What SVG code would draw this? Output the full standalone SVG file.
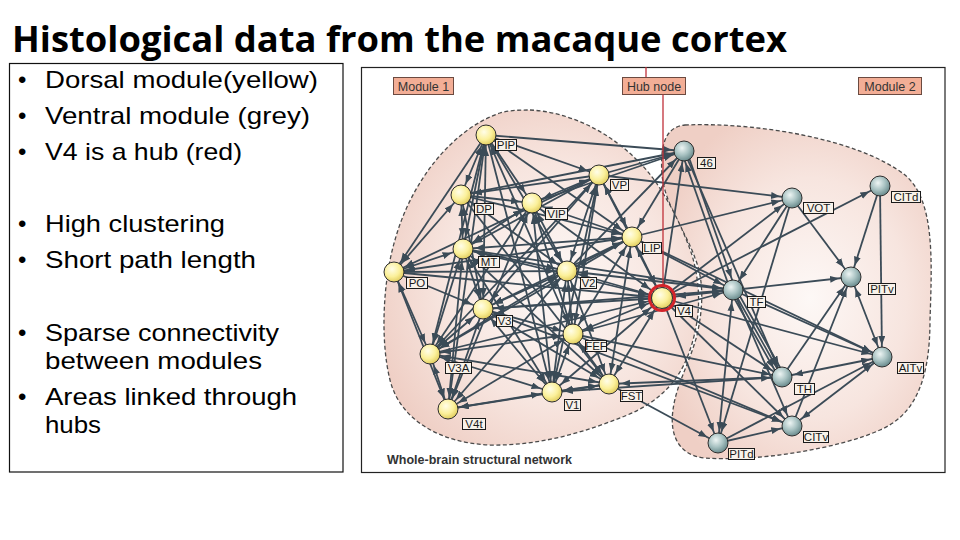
<svg xmlns="http://www.w3.org/2000/svg" width="960" height="540" viewBox="0 0 960 540">
<defs>
<style>
.title{font-family:"Open Sans","Liberation Sans",Arial,sans-serif;font-weight:bold;font-size:35px;fill:#000}
.bl{font-family:"Liberation Sans",Arial,sans-serif;font-size:24px;fill:#000}
.frame{fill:#fff;stroke:#222;stroke-width:1.2}
.blob{stroke:#4a4a4a;stroke-width:1.3;stroke-dasharray:4 2.5}
.c line{stroke:#3b4b57;stroke-width:1.8;fill:none}
.f{marker-end:url(#a)}
.b{marker-start:url(#a);marker-end:url(#a)}
.fv{marker-end:url(#av)}
.bv{marker-start:url(#a);marker-end:url(#av)}
.rv{marker-start:url(#a)}
.y{fill:url(#gy);stroke:#2d2d2d;stroke-width:1}
.g{fill:url(#gg);stroke:#2d2d2d;stroke-width:1}
.lb{fill:#f8f2ea;stroke:#1a1a1a;stroke-width:1}
.lt{font-family:"Liberation Sans",Arial,sans-serif;font-size:11.5px;fill:#1a1a1a;text-anchor:middle}
.mb{fill:#f3ae96;stroke:#6b4a40;stroke-width:1}
.mt{font-family:"Liberation Sans",Arial,sans-serif;font-size:12.5px;fill:#333;text-anchor:middle}
</style>
<marker id="a" markerUnits="userSpaceOnUse" markerWidth="30" markerHeight="10" viewBox="0 0 30 10" refX="21" refY="3.5" orient="auto-start-reverse"><path d="M0,0 L9,3.5 L0,7 z" fill="#3b4b57"/></marker>
<marker id="av" markerUnits="userSpaceOnUse" markerWidth="30" markerHeight="10" viewBox="0 0 30 10" refX="24" refY="3.5" orient="auto-start-reverse"><path d="M0,0 L9,3.5 L0,7 z" fill="#3b4b57"/></marker>
<radialGradient id="gy" cx="0.4" cy="0.35" r="0.65"><stop offset="0" stop-color="#fffde8"/><stop offset="0.6" stop-color="#fbf09a"/><stop offset="1" stop-color="#e3cf62"/></radialGradient>
<radialGradient id="gg" cx="0.4" cy="0.35" r="0.65"><stop offset="0" stop-color="#eef5f4"/><stop offset="0.55" stop-color="#a8c2c2"/><stop offset="1" stop-color="#6b8c8e"/></radialGradient>
<radialGradient id="gb" cx="0.55" cy="0.52" r="0.6"><stop offset="0" stop-color="#fdf8f6"/><stop offset="0.6" stop-color="#f7e5df"/><stop offset="1" stop-color="#efcfc5"/></radialGradient>
</defs>
<rect width="960" height="540" fill="#fff"/>
<text class="title" x="12" y="52" textLength="775" lengthAdjust="spacingAndGlyphs">Histological data from the macaque cortex</text>

<g id="textbox">
<rect x="9.5" y="63.5" width="333.5" height="408.5" fill="#fff" stroke="#111" stroke-width="1.2"/>
<text class="bl" x="18" y="88">•</text><text class="bl" x="45" y="88" textLength="273" lengthAdjust="spacingAndGlyphs">Dorsal module(yellow)</text>
<text class="bl" x="18" y="124">•</text><text class="bl" x="45" y="124" textLength="265" lengthAdjust="spacingAndGlyphs">Ventral module (grey)</text>
<text class="bl" x="18" y="160">•</text><text class="bl" x="45" y="160" textLength="197" lengthAdjust="spacingAndGlyphs">V4 is a hub (red)</text>
<text class="bl" x="18" y="232">•</text><text class="bl" x="45" y="232" textLength="180" lengthAdjust="spacingAndGlyphs">High clustering</text>
<text class="bl" x="18" y="268">•</text><text class="bl" x="45" y="268" textLength="211" lengthAdjust="spacingAndGlyphs">Short path length</text>
<text class="bl" x="18" y="341">•</text><text class="bl" x="45" y="341" textLength="234" lengthAdjust="spacingAndGlyphs">Sparse connectivity</text>
<text class="bl" x="45" y="369" textLength="217" lengthAdjust="spacingAndGlyphs">between modules</text>
<text class="bl" x="18" y="405">•</text><text class="bl" x="45" y="405" textLength="252" lengthAdjust="spacingAndGlyphs">Areas linked through</text>
<text class="bl" x="45" y="433" textLength="56" lengthAdjust="spacingAndGlyphs">hubs</text>
</g>

<rect class="frame" x="361.5" y="67.5" width="583.5" height="405"/>

<g id="modules">
<path id="module2" class="blob" fill="url(#gb)" d="M685,125 C760,122 860,140 905,175 C935,200 932,260 930,320 C930,380 915,415 880,430 C840,448 760,462 705,458 C675,455 670,430 673,410 C676,385 690,362 697,335 C705,300 702,275 695,258 C685,230 665,205 662,175 C660,145 665,127 685,125 Z"/>
<path id="module1" class="blob" fill="url(#gb)" d="M530,110 C570,112 610,132 640,163 C660,183 680,220 692,255 C702,290 700,320 690,350 C680,380 660,402 625,416 C585,432 540,446 490,445 C440,443 400,420 390,380 C380,340 383,280 395,240 C410,185 450,130 500,113 C510,110 520,110 530,110 Z"/>
</g>

<g id="labels-top">
<rect class="mb" x="393.5" y="77.5" width="60" height="17"/><text class="mt" x="423.5" y="90.5">Module 1</text>
<rect class="mb" x="622.5" y="77.5" width="63" height="17"/><text class="mt" x="654" y="90.5">Hub node</text>
<rect class="mb" x="858.5" y="77.5" width="63" height="17"/><text class="mt" x="890" y="90.5">Module 2</text>
<text x="387" y="464" font-family="Liberation Sans, Arial, sans-serif" font-weight="bold" font-size="12" fill="#333" textLength="185" lengthAdjust="spacingAndGlyphs">Whole-brain structural network</text>
</g>

<g id="connectors" class="c">
<line x1="486" y1="135" x2="461" y2="195" class="b"/>
<line x1="486" y1="135" x2="463" y2="249" class="b"/>
<line x1="486" y1="135" x2="394" y2="272" class="f"/>
<line x1="486" y1="135" x2="599" y2="175" class="f"/>
<line x1="486" y1="135" x2="532" y2="203" class="b"/>
<line x1="486" y1="135" x2="483" y2="309" class="b"/>
<line x1="486" y1="135" x2="430" y2="354" class="b"/>
<line x1="486" y1="135" x2="448" y2="409" class="b"/>
<line x1="486" y1="135" x2="567" y2="271" class="b"/>
<line x1="486" y1="135" x2="573" y2="334" class="b"/>
<line x1="486" y1="135" x2="552" y2="392" class="f"/>
<line x1="486" y1="135" x2="632" y2="237" class="b"/>
<line x1="599" y1="175" x2="461" y2="195" class="f"/>
<line x1="599" y1="175" x2="463" y2="249" class="f"/>
<line x1="599" y1="175" x2="532" y2="203" class="b"/>
<line x1="599" y1="175" x2="632" y2="237" class="b"/>
<line x1="599" y1="175" x2="567" y2="271" class="b"/>
<line x1="599" y1="175" x2="662" y2="298" class="bv"/>
<line x1="599" y1="175" x2="573" y2="334" class="b"/>
<line x1="599" y1="175" x2="552" y2="392" class="b"/>
<line x1="599" y1="175" x2="483" y2="309" class="b"/>
<line x1="599" y1="175" x2="430" y2="354" class="f"/>
<line x1="599" y1="175" x2="394" y2="272" class="f"/>
<line x1="461" y1="195" x2="532" y2="203" class="f"/>
<line x1="461" y1="195" x2="463" y2="249" class="b"/>
<line x1="461" y1="195" x2="632" y2="237" class="f"/>
<line x1="461" y1="195" x2="394" y2="272" class="b"/>
<line x1="461" y1="195" x2="483" y2="309" class="b"/>
<line x1="461" y1="195" x2="567" y2="271" class="b"/>
<line x1="461" y1="195" x2="609" y2="384" class="f"/>
<line x1="532" y1="203" x2="463" y2="249" class="b"/>
<line x1="532" y1="203" x2="632" y2="237" class="b"/>
<line x1="532" y1="203" x2="567" y2="271" class="b"/>
<line x1="532" y1="203" x2="430" y2="354" class="b"/>
<line x1="532" y1="203" x2="448" y2="409" class="b"/>
<line x1="532" y1="203" x2="573" y2="334" class="b"/>
<line x1="532" y1="203" x2="552" y2="392" class="b"/>
<line x1="532" y1="203" x2="662" y2="298" class="bv"/>
<line x1="632" y1="237" x2="463" y2="249" class="b"/>
<line x1="632" y1="237" x2="567" y2="271" class="b"/>
<line x1="632" y1="237" x2="662" y2="298" class="bv"/>
<line x1="632" y1="237" x2="483" y2="309" class="b"/>
<line x1="632" y1="237" x2="573" y2="334" class="b"/>
<line x1="632" y1="237" x2="609" y2="384" class="b"/>
<line x1="632" y1="237" x2="430" y2="354" class="f"/>
<line x1="632" y1="237" x2="394" y2="272" class="b"/>
<line x1="463" y1="249" x2="394" y2="272" class="b"/>
<line x1="463" y1="249" x2="567" y2="271" class="b"/>
<line x1="463" y1="249" x2="483" y2="309" class="b"/>
<line x1="463" y1="249" x2="430" y2="354" class="b"/>
<line x1="463" y1="249" x2="552" y2="392" class="b"/>
<line x1="463" y1="249" x2="609" y2="384" class="b"/>
<line x1="463" y1="249" x2="662" y2="298" class="bv"/>
<line x1="463" y1="249" x2="448" y2="409" class="b"/>
<line x1="394" y1="272" x2="567" y2="271" class="f"/>
<line x1="394" y1="272" x2="483" y2="309" class="b"/>
<line x1="394" y1="272" x2="430" y2="354" class="b"/>
<line x1="394" y1="272" x2="448" y2="409" class="b"/>
<line x1="394" y1="272" x2="662" y2="298" class="fv"/>
<line x1="567" y1="271" x2="483" y2="309" class="b"/>
<line x1="567" y1="271" x2="573" y2="334" class="b"/>
<line x1="567" y1="271" x2="552" y2="392" class="b"/>
<line x1="567" y1="271" x2="609" y2="384" class="b"/>
<line x1="567" y1="271" x2="662" y2="298" class="bv"/>
<line x1="567" y1="271" x2="430" y2="354" class="b"/>
<line x1="567" y1="271" x2="448" y2="409" class="b"/>
<line x1="483" y1="309" x2="430" y2="354" class="b"/>
<line x1="483" y1="309" x2="552" y2="392" class="b"/>
<line x1="483" y1="309" x2="573" y2="334" class="b"/>
<line x1="483" y1="309" x2="609" y2="384" class="b"/>
<line x1="483" y1="309" x2="662" y2="298" class="bv"/>
<line x1="483" y1="309" x2="448" y2="409" class="b"/>
<line x1="573" y1="334" x2="552" y2="392" class="b"/>
<line x1="573" y1="334" x2="609" y2="384" class="b"/>
<line x1="573" y1="334" x2="662" y2="298" class="bv"/>
<line x1="573" y1="334" x2="430" y2="354" class="b"/>
<line x1="573" y1="334" x2="448" y2="409" class="b"/>
<line x1="430" y1="354" x2="552" y2="392" class="b"/>
<line x1="430" y1="354" x2="448" y2="409" class="b"/>
<line x1="430" y1="354" x2="609" y2="384" class="b"/>
<line x1="552" y1="392" x2="609" y2="384" class="b"/>
<line x1="552" y1="392" x2="448" y2="409" class="b"/>
<line x1="552" y1="392" x2="662" y2="298" class="bv"/>
<line x1="609" y1="384" x2="662" y2="298" class="bv"/>
<line x1="448" y1="409" x2="609" y2="384" class="b"/>
<line x1="430" y1="354" x2="662" y2="298" class="fv"/>
<line x1="486" y1="135" x2="684" y2="151" class="f"/>
<line x1="599" y1="175" x2="684" y2="151" class="f"/>
<line x1="461" y1="195" x2="684" y2="151" class="f"/>
<line x1="532" y1="203" x2="684" y2="151" class="f"/>
<line x1="684" y1="151" x2="632" y2="237" class="f"/>
<line x1="684" y1="151" x2="662" y2="298" class="rv"/>
<line x1="567" y1="271" x2="684" y2="151" class="f"/>
<line x1="599" y1="175" x2="792" y2="198" class="f"/>
<line x1="632" y1="237" x2="792" y2="198" class="f"/>
<line x1="733" y1="290" x2="662" y2="298" class="bv"/>
<line x1="632" y1="237" x2="733" y2="290" class="b"/>
<line x1="567" y1="271" x2="733" y2="290" class="b"/>
<line x1="573" y1="334" x2="733" y2="290" class="b"/>
<line x1="463" y1="249" x2="733" y2="290" class="f"/>
<line x1="483" y1="309" x2="733" y2="290" class="f"/>
<line x1="718" y1="443" x2="662" y2="298" class="rv"/>
<line x1="609" y1="384" x2="718" y2="443" class="f"/>
<line x1="792" y1="426" x2="662" y2="298" class="rv"/>
<line x1="573" y1="334" x2="792" y2="426" class="f"/>
<line x1="882" y1="357" x2="662" y2="298" class="rv"/>
<line x1="632" y1="237" x2="882" y2="357" class="f"/>
<line x1="782" y1="377" x2="609" y2="384" class="f"/>
<line x1="552" y1="392" x2="782" y2="377" class="b"/>
<line x1="573" y1="334" x2="782" y2="377" class="f"/>
<line x1="782" y1="377" x2="662" y2="298" class="rv"/>
<line x1="880" y1="186" x2="662" y2="298" class="rv"/>
<line x1="792" y1="198" x2="662" y2="298" class="rv"/>
<line x1="483" y1="309" x2="792" y2="426" class="f"/>
<line x1="686.4" y1="150.2" x2="735.4" y2="289.2" class="f"/>
<line x1="730.6" y1="290.8" x2="681.6" y2="151.8" class="f"/>
<line x1="684" y1="151" x2="782" y2="377" class="f"/>
<line x1="792" y1="198" x2="851" y2="277" class="f"/>
<line x1="792" y1="198" x2="718" y2="443" class="f"/>
<line x1="792" y1="198" x2="733" y2="290" class="f"/>
<line x1="880" y1="186" x2="851" y2="277" class="f"/>
<line x1="880" y1="186" x2="882" y2="357" class="f"/>
<line x1="851" y1="277" x2="882" y2="357" class="b"/>
<line x1="733" y1="290" x2="851" y2="277" class="f"/>
<line x1="733" y1="290" x2="782" y2="377" class="f"/>
<line x1="730.4" y1="291.5" x2="779.4" y2="378.5" class="f"/>
<line x1="735.6" y1="288.5" x2="784.6" y2="375.5" class="f"/>
<line x1="733" y1="290" x2="882" y2="357" class="f"/>
<line x1="733" y1="290" x2="718" y2="443" class="b"/>
<line x1="733" y1="290" x2="792" y2="426" class="f"/>
<line x1="782" y1="377" x2="882" y2="357" class="b"/>
<line x1="782" y1="377" x2="851" y2="277" class="f"/>
<line x1="792" y1="426" x2="851" y2="277" class="f"/>
<line x1="792" y1="426" x2="882" y2="357" class="b"/>
<line x1="718" y1="443" x2="792" y2="426" class="f"/>
<line x1="718" y1="443" x2="882" y2="357" class="f"/>
</g>

<g id="hub-pointer" stroke="#c0303a" stroke-width="1.3">
<line x1="646" y1="67" x2="646" y2="77"/>
<line x1="663" y1="94.5" x2="663" y2="285"/>
</g>

<g id="n-PIP"><circle class="y" cx="486" cy="135" r="10"/><rect class="lb" x="495.5" y="139.5" width="21" height="11"/><text class="lt" x="506" y="149.2">PIP</text></g>
<g id="n-VP"><circle class="y" cx="599" cy="175" r="10"/><rect class="lb" x="610.5" y="179.5" width="18" height="11"/><text class="lt" x="619.5" y="189.2">VP</text></g>
<g id="n-DP"><circle class="y" cx="461" cy="195" r="10"/><rect class="lb" x="474.5" y="203.5" width="19" height="11"/><text class="lt" x="484" y="213.2">DP</text></g>
<g id="n-VIP"><circle class="y" cx="532" cy="203" r="10"/><rect class="lb" x="545.5" y="208.5" width="22" height="11"/><text class="lt" x="556.5" y="218.2">VIP</text></g>
<g id="n-LIP"><circle class="y" cx="632" cy="237" r="10"/><rect class="lb" x="642.5" y="242.5" width="19" height="11"/><text class="lt" x="652" y="252.2">LIP</text></g>
<g id="n-MT"><circle class="y" cx="463" cy="249" r="10"/><rect class="lb" x="478.5" y="256.5" width="21" height="11"/><text class="lt" x="489" y="266.2">MT</text></g>
<g id="n-PO"><circle class="y" cx="394" cy="272" r="10"/><rect class="lb" x="406.5" y="277.5" width="21" height="11"/><text class="lt" x="417" y="287.2">PO</text></g>
<g id="n-V2"><circle class="y" cx="567" cy="271" r="10"/><rect class="lb" x="580.5" y="277.5" width="16" height="11"/><text class="lt" x="588.5" y="287.2">V2</text></g>
<g id="n-V3"><circle class="y" cx="483" cy="309" r="10"/><rect class="lb" x="496.5" y="315.5" width="16" height="11"/><text class="lt" x="504.5" y="325.2">V3</text></g>
<g id="n-FEF"><circle class="y" cx="573" cy="334" r="10"/><rect class="lb" x="585.5" y="340.5" width="21" height="11"/><text class="lt" x="596" y="350.2">FEF</text></g>
<g id="n-V3A"><circle class="y" cx="430" cy="354" r="10"/><rect class="lb" x="445.5" y="362.5" width="26" height="11"/><text class="lt" x="458.5" y="372.2">V3A</text></g>
<g id="n-V1"><circle class="y" cx="552" cy="392" r="10"/><rect class="lb" x="564.5" y="399.5" width="16" height="11"/><text class="lt" x="572.5" y="409.2">V1</text></g>
<g id="n-FST"><circle class="y" cx="609" cy="384" r="10"/><rect class="lb" x="620.5" y="390.5" width="22" height="11"/><text class="lt" x="631.5" y="400.2">FST</text></g>
<g id="n-V4t"><circle class="y" cx="448" cy="409" r="10"/><rect class="lb" x="462.5" y="418.5" width="23" height="11"/><text class="lt" x="474" y="428.2">V4t</text></g>
<g id="n-V4"><circle cx="662" cy="298" r="12.5" fill="none" stroke="#d3242a" stroke-width="3"/><circle class="y" cx="662" cy="298" r="10.5"/><rect class="lb" x="675.5" y="305.5" width="17" height="11"/><text class="lt" x="684" y="315.2">V4</text></g>
<g id="n-46"><circle class="g" cx="684" cy="151" r="10"/><rect class="lb" x="697.5" y="157.5" width="18" height="11"/><text class="lt" x="706.5" y="167.2">46</text></g>
<g id="n-VOT"><circle class="g" cx="792" cy="198" r="10"/><rect class="lb" x="803.5" y="202.5" width="30" height="11"/><text class="lt" x="818.5" y="212.2">VOT</text></g>
<g id="n-CITd"><circle class="g" cx="880" cy="186" r="10"/><rect class="lb" x="891.5" y="191.5" width="29" height="11"/><text class="lt" x="906" y="201.2">CITd</text></g>
<g id="n-TF"><circle class="g" cx="733" cy="290" r="10"/><rect class="lb" x="747.5" y="296.5" width="18" height="11"/><text class="lt" x="756.5" y="306.2">TF</text></g>
<g id="n-PITv"><circle class="g" cx="851" cy="277" r="10"/><rect class="lb" x="868.5" y="283.5" width="27" height="11"/><text class="lt" x="882" y="293.2">PITv</text></g>
<g id="n-AITv"><circle class="g" cx="882" cy="357" r="10"/><rect class="lb" x="897.5" y="362.5" width="26" height="11"/><text class="lt" x="910.5" y="372.2">AITv</text></g>
<g id="n-TH"><circle class="g" cx="782" cy="377" r="10"/><rect class="lb" x="794.5" y="383.5" width="20" height="11"/><text class="lt" x="804.5" y="393.2">TH</text></g>
<g id="n-CITv"><circle class="g" cx="792" cy="426" r="10"/><rect class="lb" x="803.5" y="431.5" width="25" height="11"/><text class="lt" x="816" y="441.2">CITv</text></g>
<g id="n-PITd"><circle class="g" cx="718" cy="443" r="10"/><rect class="lb" x="728.5" y="448.5" width="26" height="11"/><text class="lt" x="741.5" y="458.2">PITd</text></g>
</svg>
